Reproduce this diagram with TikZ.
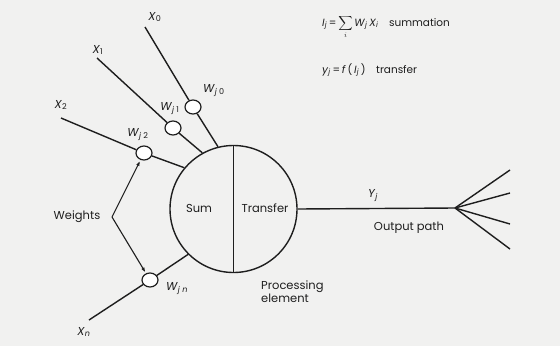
\documentclass[tikz,border=0pt]{standalone}
\usepackage{fontspec}
\setmainfont{Poppins}
\usepackage{tikz}
\usetikzlibrary{arrows.meta,positioning,shapes.geometric,calc}
\definecolor{ScanGray}{HTML}{F1F1F0}
\definecolor{InkDark}{HTML}{1E1E1E}

\begin{document}
\begin{tikzpicture}[
  x=1pt, y=-1pt,
  lbl/.style={inner sep=0pt, text=InkDark, font=\fontsize{11.5}{13}\selectfont},
  eqn/.style={inner sep=0pt, text=InkDark, font=\fontsize{10.5}{12}\selectfont},
  weight/.style={draw=InkDark, ellipse, fill=white, line width=1.2pt, minimum width=16pt, minimum height=14pt, inner sep=0pt},
  wire/.style={draw=InkDark, line width=1.4pt},
  arrow/.style={-{Latex[length=5pt,width=3.5pt]}, draw=InkDark, line width=1.1pt}
]
  \fill[ScanGray] (0,0) rectangle (560,346);
  \useasboundingbox (0,0) rectangle (560,346);

  % processing element
  \node[draw=InkDark, circle, line width=1.4pt, minimum size=127pt, inner sep=0pt] (pe) at (233.5,209) {};
  \draw[wire] (pe.north) -- (pe.south);
  \node[lbl] (sum) at (199,208) {Sum};
  \node[lbl] (transfer) at (265,208) {Transfer};
  \node[lbl, anchor=west, align=left] (pelabel) at (261,292) {Processing\\element};

  % inputs
  \coordinate (in0) at (145,27);
  \coordinate (in1) at (97,58);
  \coordinate (in2) at (61,118);
  \coordinate (inn) at (89,320);
  \node[lbl] (x0) at (155,17) {\textit{X}\textsubscript{0}};
  \node[lbl] (x1) at (98,50) {\textit{X}\textsubscript{1}};
  \node[lbl] (x2) at (61,105) {\textit{X}\textsubscript{2}};
  \node[lbl] (xn) at (84,332) {\textit{X}\textsubscript{\textit{n}}};

  \node[weight] (w0) at (193,107) {};
  \node[weight] (w1) at (173,128) {};
  \node[weight] (w2) at (144,153) {};
  \node[weight] (wn) at (150,280) {};
  \node[lbl] (w0lbl) at (214,91) {\textit{W}\textsubscript{\textit{j} 0}};
  \node[lbl] (w1lbl) at (170,109) {\textit{W}\textsubscript{\textit{j} 1}};
  \node[lbl] (w2lbl) at (138,135) {\textit{W}\textsubscript{\textit{j} 2}};
  \node[lbl] (wnlbl) at (177,289) {\textit{W}\textsubscript{\textit{j n}}};

  \draw[wire] (in0) -- (w0) -- (pe.104);
  \draw[wire] (in1) -- (w1) -- (pe.119);
  \draw[wire] (in2) -- (w2) -- (pe.140);
  \draw[wire] (inn) -- (wn) -- (pe.225);

  % weights pointer
  \node[lbl] (weights) at (77,217) {Weights};
  \coordinate (vtx) at (112,217);
  \draw[arrow, shorten >=1pt] (vtx) -- (w2);
  \draw[arrow, shorten >=1pt] (vtx) -- (wn);

  % output
  \coordinate (fan) at (455,208);
  \draw[wire] (pe.east) -- (fan);
  \foreach \yy in {170,193,224,249}
    \draw[wire] (fan) -- (510,\yy);
  \node[lbl] (yj) at (373,196) {\textit{Y}\textsubscript{\textit{j}}};
  \node[lbl] (outpath) at (409,228) {Output path};

  % formulas
  \node[eqn, anchor=west] (eqsum) at (322,27) {\textit{I}\textsubscript{\textit{j}}\,=\,$\displaystyle\sum_{i}$\,\textit{W}\textsubscript{\textit{j}}\,\textit{X}\textsubscript{\textit{i}}\quad summation};
  \node[eqn, anchor=west] (eqtrans) at (322,70) {\textit{y}\textsubscript{\textit{j}}\,=\,\textit{f}\,(\,\textit{I}\textsubscript{\textit{j}}\,)\quad transfer};
\end{tikzpicture}
\end{document}
